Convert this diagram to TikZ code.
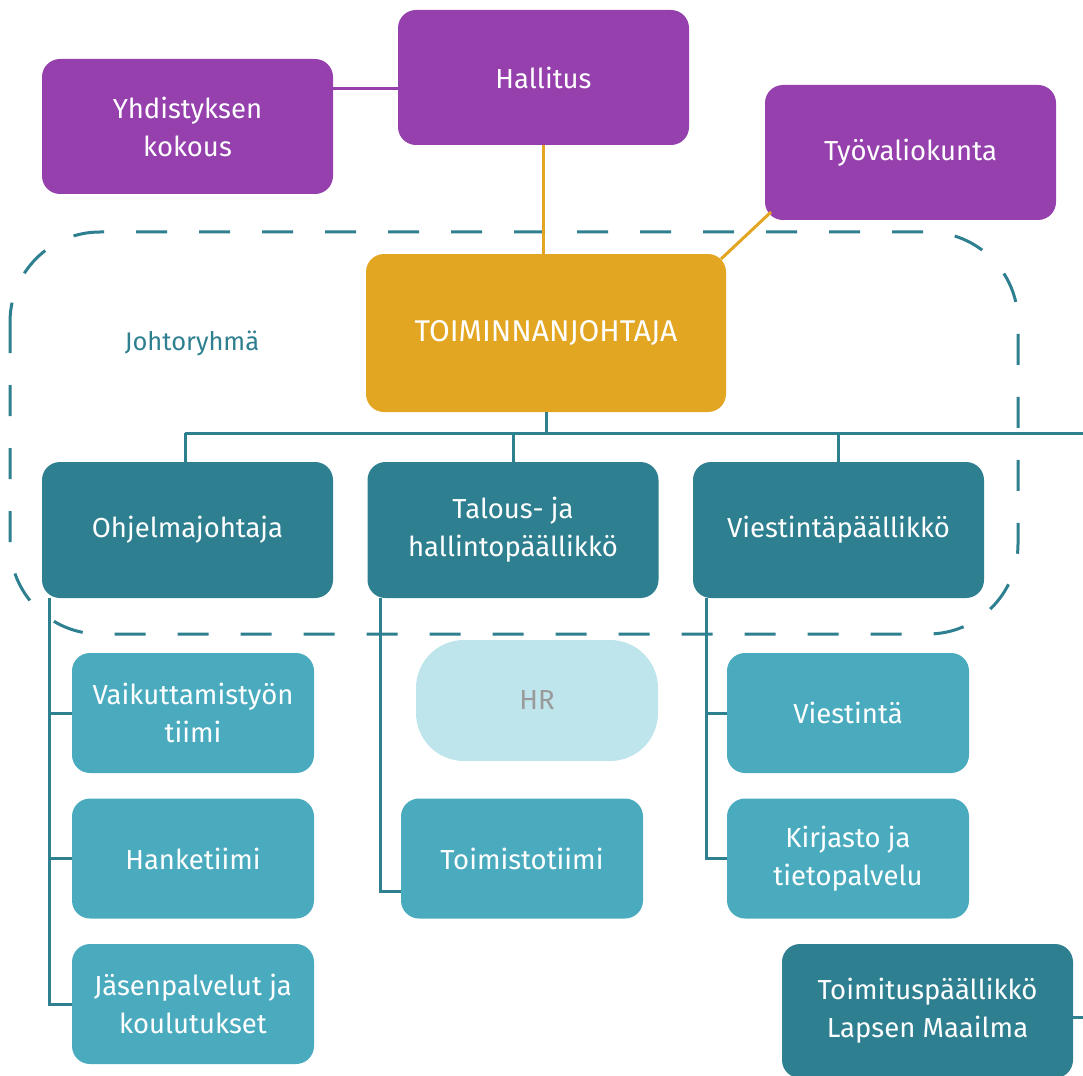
\documentclass[tikz,border=0pt]{standalone}
\usepackage{fontspec}
\setmainfont{Fira Sans}
\definecolor{cpurple}{HTML}{9540AD}
\definecolor{cgold}{HTML}{E2A622}
\definecolor{cdark}{HTML}{2E7F8F}
\definecolor{clight}{HTML}{4AABBF}
\definecolor{cpale}{HTML}{BDE5EB}
\definecolor{cgray}{HTML}{9A9A9A}
\tikzset{
  box/.style={rectangle, rounded corners=18pt, text=white, align=center, inner sep=0pt,
    font=\fontsize{27.5}{38}\selectfont},
  board/.style={box, fill=cpurple, minimum width=291pt, minimum height=135pt},
  ceo/.style={box, fill=cgold, minimum width=360pt, minimum height=158pt},
  head/.style={box, fill=cdark, minimum width=291pt, minimum height=136pt},
  team/.style={box, fill=clight, minimum width=242pt, minimum height=120pt},
  tline/.style={draw=cdark, line width=3pt},
  gline/.style={draw=cgold, line width=3pt},
  pline/.style={draw=cpurple, line width=3pt},
}
\begin{document}
\begin{tikzpicture}[x=1pt,y=-1pt]
\useasboundingbox (0,0) rectangle (1083,1075);
% dashed group
\draw[cdark, line width=3pt, dash pattern=on 31pt off 32pt, rounded corners=90pt]
  (10,232) rectangle (1018,634);
\node[text=cdark, font=\fontsize{25.5}{30}\selectfont] (jr) at (192,343) {Johtoryhmä};

% nodes
\node[board] (yhd) at (187.5,126.5) {Yhdistyksen\\kokous};
\node[board] (hal) at (543.5,77.5) {Hallitus};
\node[board] (tyo) at (910.5,152.5) {Työvaliokunta};
\node[ceo, font=\fontsize{30}{38}\selectfont] (toj) at (546,333) {TOIMINNANJOHTAJA};
\node[head] (ohj) at (187.5,530) {Ohjelmajohtaja};
\node[head] (tal) at (513,530) {Talous- ja\\hallintopäällikkö};
\node[head] (vie) at (838.5,530) {Viestintäpäällikkö};
\node[team] (vai) at (193,713) {Vaikuttamistyön\\tiimi};
\node[team] (han) at (193,858.5) {Hanketiimi};
\node[team] (jas) at (193,1004) {Jäsenpalvelut ja\\koulutukset};
\node[team, fill=cpale, text=cgray, rounded corners=48pt, minimum height=121pt] (hr) at (537,700.5) {HR};
\node[team] (tst) at (522,858.5) {Toimistotiimi};
\node[team] (vst) at (848,713) {Viestintä};
\node[team] (kir) at (848,858.5) {Kirjasto ja\\tietopalvelu};
\node[head, minimum height=134pt] (tpl) at (927.5,1011) {Toimituspäällikkö\\Lapsen Maailma};

% coordinates
\coordinate (busL) at (185,433);
\coordinate (busR) at (1083,433);
\coordinate (tplR) at (1083,1017);
\coordinate (tyoC) at (771,212);
\coordinate (tojC) at (721,259);

% connectors
\draw[pline] (yhd.east |- 0,89) -- (hal.west |- 0,89);
\draw[gline] (hal.south) -- (hal.south |- toj.north);
\draw[gline] (tyoC) -- (tojC);
\draw[tline] (toj.south) -- (546,433);
\draw[tline] (busL) -- (busR);
\draw[tline] (busL) -- (ohj.north -| busL);
\draw[tline] (513,433) -- (tal.north);
\draw[tline] (838,433) -- (838,462);
% Ohjelmajohtaja branch
\draw[tline] (49,598) -- (49,1004) -- (jas.west);
\draw[tline] (49,713) -- (vai.west);
\draw[tline] (49,858.5) -- (han.west);
% Talous branch
\draw[tline] (380,598) -- (380,891) -- (tst.west |- 0,891);
% Viestinta branch
\draw[tline] (706,598) -- (706,858.5) -- (kir.west);
\draw[tline] (706,713) -- (vst.west);
% Toimitus
\draw[tline] (tpl.east |- tplR) -- (tplR);
\end{tikzpicture}
\end{document}
